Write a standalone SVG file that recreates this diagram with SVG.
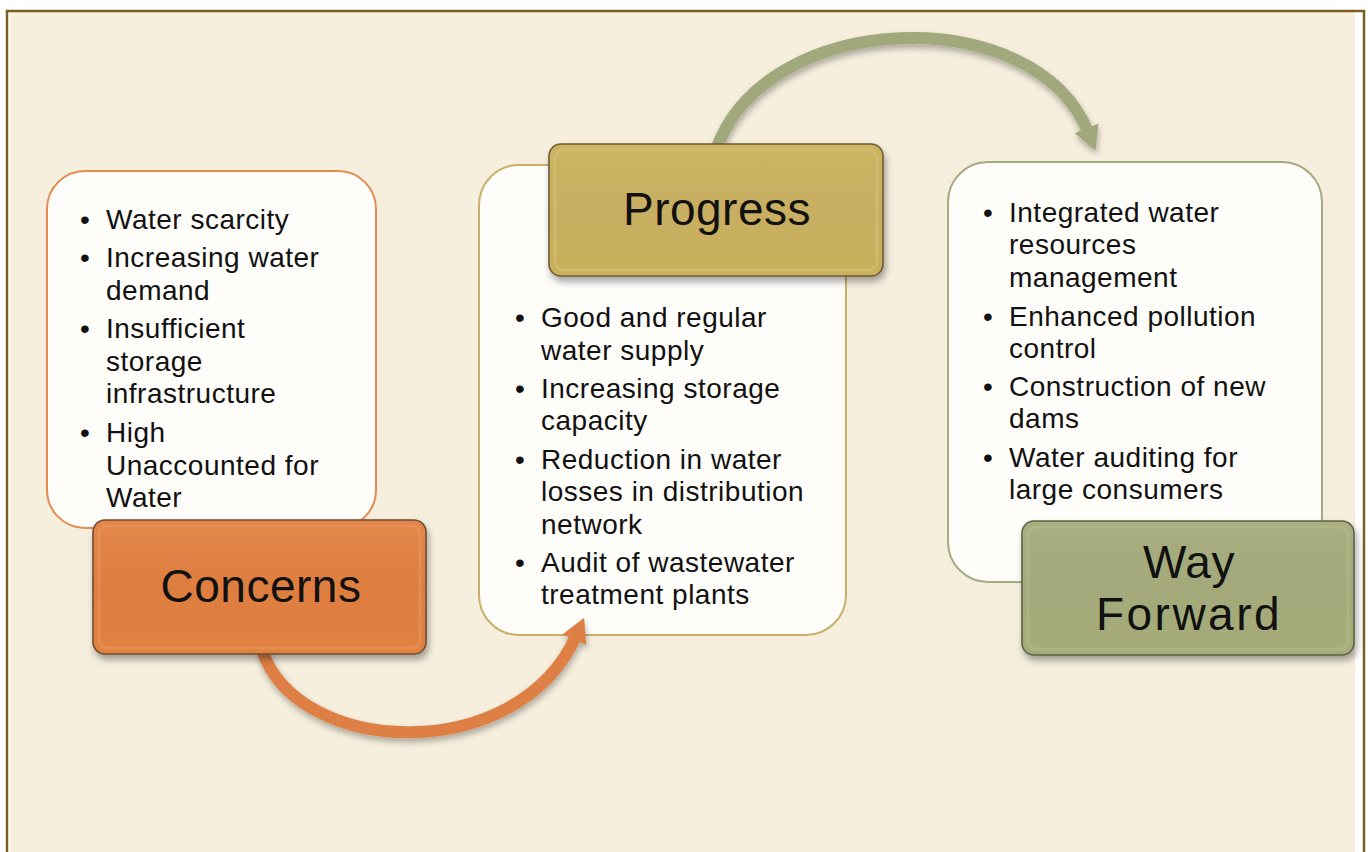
<svg xmlns="http://www.w3.org/2000/svg" width="1368" height="852" viewBox="0 0 1368 852">
<defs>
<style>
.txt{font-family:"Liberation Sans","Open Sans",Arial,sans-serif;font-size:28px;fill:#111;letter-spacing:0.5px;}
.hdr{font-family:"Liberation Sans","Open Sans",Arial,sans-serif;font-size:46px;fill:#111;text-anchor:middle;letter-spacing:0.5px;}
.box{fill:#FFFDFA;stroke-width:2;}
.head{stroke-width:1.6;}
.arc{fill:none;stroke-width:12;}
</style>
<filter id="sh" x="-20%" y="-20%" width="140%" height="150%">
<feDropShadow dx="2" dy="5" stdDeviation="3.5" flood-color="#000" flood-opacity="0.35"/>
</filter>
<filter id="ash" x="-20%" y="-20%" width="140%" height="140%">
<feDropShadow dx="1" dy="4" stdDeviation="3" flood-color="#000" flood-opacity="0.3"/>
</filter>
<marker id="mo" markerUnits="userSpaceOnUse" viewBox="0 0 24 26" markerWidth="24" markerHeight="26" refX="4" refY="13" orient="auto">
<path d="M0,0 L24,13 L0,26 z" fill="#DE7F45"/>
</marker>
<marker id="mg" markerUnits="userSpaceOnUse" viewBox="0 0 24 26" markerWidth="24" markerHeight="26" refX="4" refY="13" orient="auto">
<path d="M0,0 L24,13 L0,26 z" fill="#A0A87C"/>
</marker>
<linearGradient id="gO" x1="0" y1="0" x2="0" y2="1">
<stop offset="0" stop-color="#E3874C"/><stop offset="0.5" stop-color="#DE7D40"/><stop offset="1" stop-color="#E0823F"/>
</linearGradient>
<linearGradient id="gP" x1="0" y1="0" x2="0" y2="1">
<stop offset="0" stop-color="#CDB462"/><stop offset="0.5" stop-color="#C8AE62"/><stop offset="1" stop-color="#C9B05A"/>
</linearGradient>
<linearGradient id="gW" x1="0" y1="0" x2="0" y2="1">
<stop offset="0" stop-color="#A8AE80"/><stop offset="0.5" stop-color="#A3A97A"/><stop offset="1" stop-color="#A5AB78"/>
</linearGradient>
</defs>
<rect x="0" y="0" width="1368" height="852" fill="#FFFFFF"/>
<rect x="10" y="12" width="1345" height="840" fill="#F6EFDE"/>
<path d="M7,852 V11 H1364 V852" fill="none" stroke="#7C5E1E" stroke-width="2.5"/>

<g id="concerns-box">
<rect class="box" x="47" y="171" width="329" height="357" rx="38" stroke="#E38B50"/>
<text class="txt">
<tspan x="80" y="229">•</tspan><tspan x="106" y="229">Water scarcity</tspan>
<tspan x="80" y="267">•</tspan><tspan x="106" y="267">Increasing water</tspan>
<tspan x="106" y="300">demand</tspan>
<tspan x="80" y="338">•</tspan><tspan x="106" y="338">Insufficient</tspan>
<tspan x="106" y="371">storage</tspan>
<tspan x="106" y="403">infrastructure</tspan>
<tspan x="80" y="442">•</tspan><tspan x="106" y="442">High</tspan>
<tspan x="106" y="475">Unaccounted for</tspan>
<tspan x="106" y="507">Water</tspan>
</text>
</g>

<g id="progress-box">
<rect class="box" x="479" y="165" width="367" height="470" rx="40" stroke="#C9AF68"/>
<text class="txt">
<tspan x="515" y="327">•</tspan><tspan x="541" y="327">Good and regular</tspan>
<tspan x="541" y="360">water supply</tspan>
<tspan x="515" y="398">•</tspan><tspan x="541" y="398">Increasing storage</tspan>
<tspan x="541" y="430">capacity</tspan>
<tspan x="515" y="469">•</tspan><tspan x="541" y="469">Reduction in water</tspan>
<tspan x="541" y="501">losses in distribution</tspan>
<tspan x="541" y="534">network</tspan>
<tspan x="515" y="572">•</tspan><tspan x="541" y="572">Audit of wastewater</tspan>
<tspan x="541" y="604">treatment plants</tspan>
</text>
</g>

<g id="wayforward-box">
<rect class="box" x="948" y="162" width="374" height="420" rx="40" stroke="#A4AB7F"/>
<text class="txt">
<tspan x="983" y="222">•</tspan><tspan x="1009" y="222">Integrated water</tspan>
<tspan x="1009" y="254">resources</tspan>
<tspan x="1009" y="287">management</tspan>
<tspan x="983" y="326">•</tspan><tspan x="1009" y="326">Enhanced pollution</tspan>
<tspan x="1009" y="358">control</tspan>
<tspan x="983" y="396">•</tspan><tspan x="1009" y="396">Construction of new</tspan>
<tspan x="1009" y="428">dams</tspan>
<tspan x="983" y="467">•</tspan><tspan x="1009" y="467">Water auditing for</tspan>
<tspan x="1009" y="499">large consumers</tspan>
</text>
</g>

<g id="connectors">
<path class="arc" filter="url(#ash)" d="M262,650 C298,758 518,766 576,636" stroke="#DE7F45" marker-end="url(#mo)"/>
<path class="arc" filter="url(#ash)" d="M716,150 C765,8 1035,0 1088,132" stroke="#A0A87C" marker-end="url(#mg)"/>
</g>

<g id="concerns-head">
<rect class="head" x="93" y="520" width="333" height="134" rx="12" fill="url(#gO)" stroke="#6E4B33" filter="url(#sh)"/>
<rect x="99" y="526" width="321" height="122" rx="8" fill="none" stroke="#EA9A66" stroke-width="3" opacity="0.5"/>
<text class="hdr" x="261" y="602">Concerns</text>
</g>

<g id="progress-head">
<rect class="head" x="549" y="144" width="334" height="132" rx="12" fill="url(#gP)" stroke="#6E5A33" filter="url(#sh)"/>
<rect x="555" y="150" width="322" height="120" rx="8" fill="none" stroke="#D8C27A" stroke-width="3" opacity="0.5"/>
<text class="hdr" x="717" y="225">Progress</text>
</g>

<g id="wayforward-head">
<rect class="head" x="1022" y="521" width="332" height="134" rx="12" fill="url(#gW)" stroke="#5E6144" filter="url(#sh)"/>
<rect x="1028" y="527" width="320" height="122" rx="8" fill="none" stroke="#B8BE92" stroke-width="3" opacity="0.5"/>
<text class="hdr" x="1189" y="578">Way</text>
<text class="hdr" x="1189" y="630" style="letter-spacing:2.5px">Forward</text>
</g>
</svg>
